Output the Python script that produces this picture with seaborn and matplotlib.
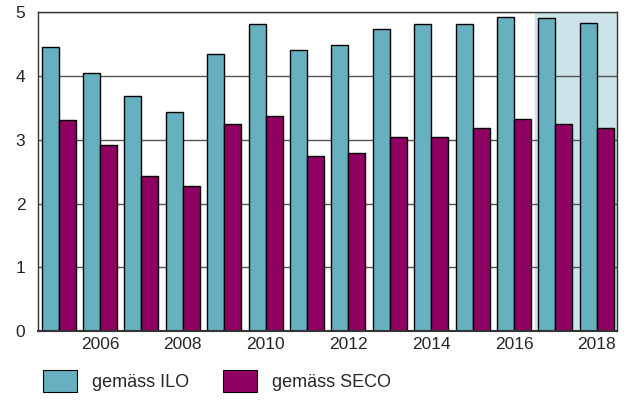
import pandas as pd
import matplotlib.pyplot as plt
import seaborn as sns
from matplotlib.patches import Patch

years = list(range(2005, 2019))
ilo = [4.45, 4.05, 3.68, 3.43, 4.34, 4.81, 4.41, 4.49, 4.74, 4.82, 4.81, 4.92, 4.91, 4.83]
seco = [3.31, 2.92, 2.43, 2.27, 3.25, 3.38, 2.74, 2.80, 3.04, 3.04, 3.18, 3.33, 3.24, 3.19]
series = ["gemäss ILO", "gemäss SECO"]
colors = ["#67b0c0", "#8f0063"]

df = pd.DataFrame({
    "Jahr": [str(y) for y in years] * 2,
    "Wert": ilo + seco,
    "Serie": [series[0]] * len(years) + [series[1]] * len(years),
})

sns.set_style("white")
plt.rcParams["font.family"] = ["Liberation Sans", "DejaVu Sans"]

fig = plt.figure(figsize=(6.32, 4.03), dpi=100)
ax = fig.add_axes([0.060, 0.178, 0.917, 0.792])

# Prognose-Bereich
ax.axvspan(11.5, 13.5, color="#cde3ea", zorder=0)
for yv in range(1, 6):
    ax.axhline(yv, color="#555555", lw=1, zorder=0.5)

sns.barplot(data=df, x="Jahr", y="Wert", hue="Serie", palette=colors,
            width=0.82, edgecolor="black", linewidth=1, saturation=1,
            legend=False, ax=ax, zorder=2)

ax.set_xlim(-0.5, 13.5)
ax.set_ylim(0, 5)
ax.set_yticks(range(6))
ax.set_xticks(range(len(years)))
ax.set_xticklabels([str(y) if y % 2 == 0 else "" for y in years])
ax.set_xticks([i + 0.5 for i in range(-1, len(years))], minor=True)
ax.tick_params(axis="x", which="major", length=0, labelsize=12.5, pad=4)
ax.tick_params(axis="x", which="minor", direction="in", length=4, width=1, color="#333333")
ax.tick_params(axis="y", length=0, labelsize=12.5, pad=9)
ax.set_xlabel("")
ax.set_ylabel("")
for side in ["left", "bottom", "top", "right"]:
    ax.spines[side].set_visible(True)
    ax.spines[side].set_color("#333333")
    ax.spines[side].set_linewidth(1)
ax.spines["bottom"].set_linewidth(1.5)

handles = [Patch(facecolor=c, edgecolor="black", lw=0.8) for c in colors]
fig.legend(handles, series, loc="center left", bbox_to_anchor=(0.068, 0.055), ncol=2,
           frameon=False, fontsize=13, borderpad=0, borderaxespad=0,
           handlelength=1.9, handleheight=1.5,
           handletextpad=0.8, columnspacing=1.9)

plt.savefig("out.png", dpi=100)
